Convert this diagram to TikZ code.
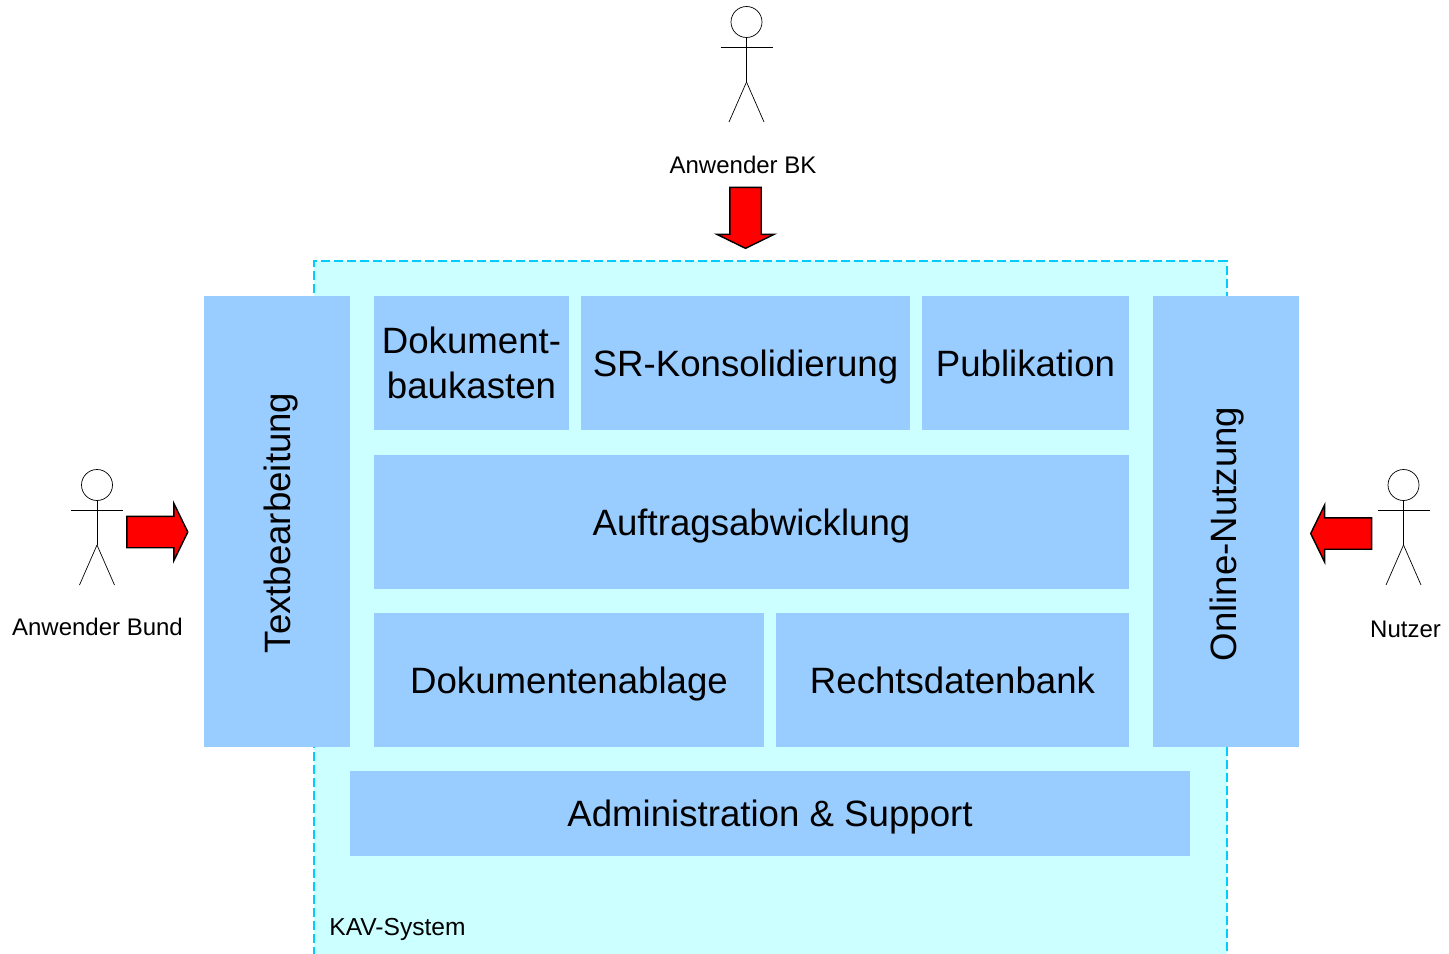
\documentclass[tikz,border=0pt]{standalone}
\usepackage{fontspec}
\setmainfont{Liberation Sans}
\usetikzlibrary{shapes.arrows}
\definecolor{blockblue}{HTML}{99CCFF}
\definecolor{systembg}{HTML}{CCFFFF}
\definecolor{systemline}{HTML}{00CCFF}
\tikzset{
    block/.style={fill=blockblue,inner sep=0pt,align=center,text depth=0pt,font=\fontsize{20.85}{25.4}\selectfont},
    small/.style={inner sep=0pt,font=\fontsize{13.66}{16}\selectfont},
    redarrow/.style={single arrow,draw=black,fill=red,line width=0.8pt,inner xsep=0pt,inner ysep=0.3cm,
        minimum height=1.22cm,single arrow head extend=0.26cm,
        single arrow tip angle=128},
    actor/.pic={
        \node [circle,draw,inner sep=0pt,minimum size=0.62cm] (-head) at (0,0) {};
        \coordinate (-hip) at (0,60);
        \coordinate (-arml) at (-26,25);
        \coordinate (-armr) at (26,25);
        \coordinate (-footl) at (-17.5,100);
        \coordinate (-footr) at (17.5,100);
        \draw (-head) -- (-hip);
        \draw (-arml) -- (-armr);
        \draw (-hip) -- (-footl);
        \draw (-hip) -- (-footr);
    }
}
\begin{document}
\begin{tikzpicture}[x=0.02cm,y=-0.02cm]
    \useasboundingbox (0,0) rectangle (1449,953);
    \node [fill=systembg,draw=systemline,line width=1.1pt,dash pattern=on 5.1pt off 2.3pt,inner sep=0pt,minimum width=18.26cm,minimum height=14cm] (system) at (770.5,611) {};
    \node [small,font=\fontsize{14}{16}\selectfont,anchor=west] (systemlabel) at (329,929) {KAV-System};
    \node [block,minimum width=2.92cm,minimum height=9.02cm] (text) at (277,521.5) {};
    \node [block,fill=none,rotate=90] (texttext) at (277,523) {Textbearbeitung};
    \node [block,minimum width=3.9cm,minimum height=2.68cm] (baukasten) at (471.5,363) {Dokument-\\baukasten};
    \node [block,minimum width=6.58cm,minimum height=2.68cm] (sr) at (745.5,363) {SR-Konsolidierung};
    \node [block,minimum width=4.14cm,minimum height=2.68cm] (pub) at (1025.5,363) {Publikation};
    \node [block,minimum width=15.1cm,minimum height=2.68cm] (auftrag) at (751.5,522) {Auftragsabwicklung};
    \node [block,minimum width=7.8cm,minimum height=2.68cm] (ablage) at (569,680) {Dokumentenablage};
    \node [block,minimum width=7.06cm,minimum height=2.68cm] (rdb) at (952.5,680) {Rechtsdatenbank};
    \node [block,minimum width=16.8cm,minimum height=1.7cm] (admin) at (770,813.5) {Administration \& Support};
    \node [block,minimum width=2.92cm,minimum height=9.02cm] (online) at (1226,521.5) {};
    \node [block,fill=none,rotate=90] (onlinetext) at (1223,534) {Online-Nutzung};
    \pic (bk) at (746.5,22) {actor};
    \pic (bund) at (97,485) {actor};
    \pic (nutzer) at (1403.5,485) {actor};
    \node [small] (bklabel) at (743,165) {Anwender BK};
    \node [small] (bundlabel) at (97.5,627) {Anwender Bund};
    \node [small] (nutzerlabel) at (1405.5,629) {Nutzer};
    \node [redarrow,rotate=-90] (bkarrow) at (745.5,214) {};
    \node [redarrow] (bundarrow) at (153.5,532) {};
    \node [redarrow,rotate=180] (nutzerarrow) at (1345,533.5) {};
\end{tikzpicture}
\end{document}
